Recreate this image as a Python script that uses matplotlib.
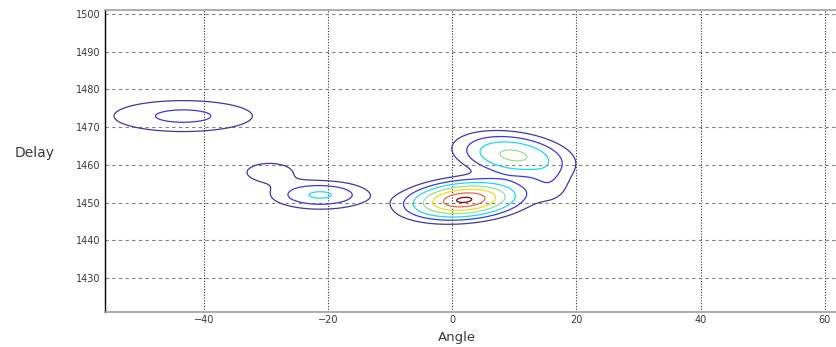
import numpy as np
import matplotlib
matplotlib.use("Agg")
import matplotlib.pyplot as plt

# Peak components of the angle/delay intensity map
peak_angle = [1.9, 9.8, 15.8, -21.3, -29.5, -43.4]
peak_delay = [1450.7, 1462.5, 1455.0, 1452.0, 1458.0, 1472.9]
peak_amp = [1.00, 0.46, 0.10, 0.28, 0.11, 0.176]
peak_width_angle = [5.0, 5.0, 2.2, 4.6, 3.5, 7.9]
peak_width_delay = [2.7, 3.2, 3.5, 2.2, 2.3, 2.9]
peak_tilt = [0.12, -0.18, 0.0, 0.0, 0.0, 0.0]

levels = [0.065, 0.15, 0.26, 0.42, 0.60, 0.80, 0.97]
level_colors = ["#3a3aa2", "#3838ea", "#18dcec", "#94e094",
                "#f0dc18", "#f06444", "#900000"]

x_ticks = [-40, -20, 0, 20, 40, 60]
y_ticks = [1430, 1440, 1450, 1460, 1470, 1480, 1490, 1500]

angle = np.linspace(-56, 62, 473)
delay = np.linspace(1421, 1501, 321)
X, Y = np.meshgrid(angle, delay)
Z = np.zeros_like(X)
for x0, y0, a, sx, sy, k in zip(peak_angle, peak_delay, peak_amp,
                                 peak_width_angle, peak_width_delay, peak_tilt):
    dx = X - x0
    dy = (Y - y0) - k * dx
    Z += a * np.exp(-0.5 * ((dx / sx) ** 2 + (dy / sy) ** 2))

fig = plt.figure(figsize=(8.37, 3.47), dpi=100)
ax = fig.add_axes([105 / 837, 35 / 347, 732 / 837, 302 / 347])

ax.contour(X, Y, Z, levels=levels, colors=level_colors, linewidths=0.9)

ax.set_xlim(-56, 62)
ax.set_ylim(1421, 1501)
ax.set_xticks(x_ticks)
ax.set_yticks(y_ticks)
ax.tick_params(axis="x", length=0, labelsize=7, labelcolor="#3a3a3a", pad=2.5)
ax.tick_params(axis="y", length=0, labelsize=7, labelcolor="#3a3a3a", pad=3.5)

for xv in x_ticks:
    ax.axvline(xv, color="#303030", linestyle=(0, (1, 1.5)), linewidth=0.8, zorder=0)
for yv in y_ticks:
    ax.axhline(yv, color="#808080", linestyle=(0, (3, 3)), linewidth=0.8, zorder=0)

ax.spines["right"].set_visible(False)
ax.spines["left"].set_color("black")
ax.spines["left"].set_linewidth(1.0)
for s in ("top", "bottom"):
    ax.spines[s].set_color("#a0a0a0")
    ax.spines[s].set_linewidth(1.2)

fig.text(15 / 837, 1 - 153 / 347, "Delay", fontsize=10, color="#3a3a3a",
         ha="left", va="center")
fig.text(457 / 837, 1 - 338 / 347, "Angle", fontsize=9.5, color="#3a3a3a",
         ha="center", va="center")

fig.savefig("out.png", dpi=100)
